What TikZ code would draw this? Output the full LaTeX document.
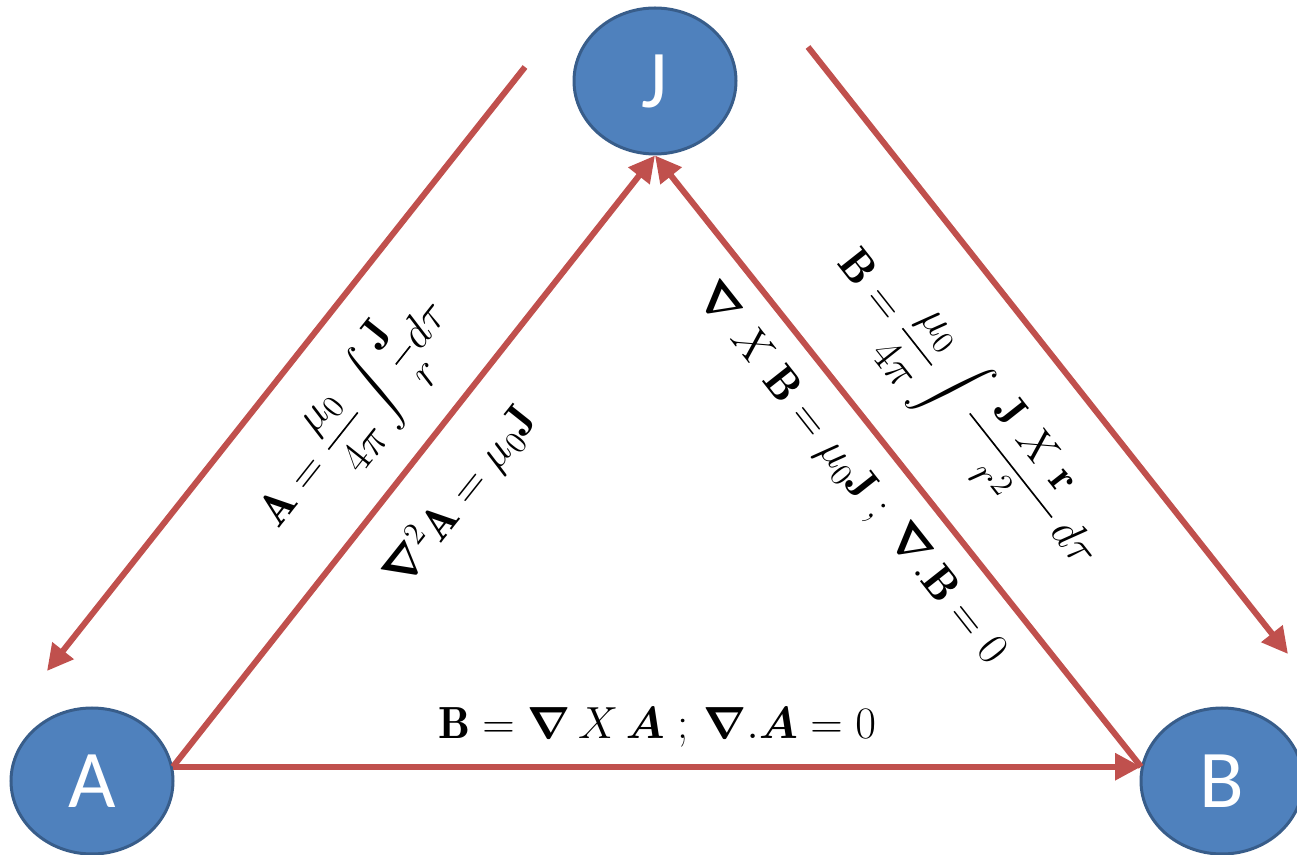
\documentclass[tikz,border=0pt]{standalone}
\usepackage{fix-cm}
\usepackage{amsmath,bm}
\usepackage{fontspec}
\newfontfamily\nodefont{Carlito}
\usetikzlibrary{shapes.geometric,arrows.meta}
\definecolor{nodeblue}{HTML}{4F81BD}
\definecolor{nodeedge}{HTML}{385D8A}
\definecolor{arrowred}{HTML}{C0504D}
\tikzset{
  vnode/.style={ellipse, fill=nodeblue, draw=nodeedge, line width=1.5pt,
    minimum width=81pt, minimum height=73pt, inner sep=0pt, text=white,
    font=\nodefont\fontsize{41}{41}\selectfont},
  rel/.style={draw=arrowred, line width=3pt, -{Triangle[length=13pt,width=13pt]}},
  eqlabel/.style={inner sep=0pt, font=\fontsize{22.5}{27}\selectfont}
}
\begin{document}
\begin{tikzpicture}[x=0.5pt,y=-0.5pt]
\useasboundingbox (0,0) rectangle (1297,855);
\node[vnode] (J) at (655,81) {J};
\node[vnode] (A) at (92,781) {A};
\node[vnode] (B) at (1222,781) {B};
\coordinate (j1) at (525,67);
\coordinate (a1) at (47,671);
\coordinate (j2) at (808,47);
\coordinate (b2) at (1288,654);
\draw[rel] (j1) -- (a1);
\draw[rel] (A.10) -- (J.south);
\draw[rel] (B.170) -- (J.south);
\draw[rel] (j2) -- (b2);
\draw[rel] (A.10) -- (B.170);
\node[eqlabel, rotate=51.6] (l1) at (354,414) {$\mathbf{A}=\dfrac{\mu_0}{4\pi}\displaystyle\int\frac{\mathbf{J}}{r}d\tau$};
\node[eqlabel, rotate=51.5] (l2) at (460,497) {$\bm{\nabla}^2\mathbf{A}=\mu_0\mathbf{J}$};
\node[eqlabel, rotate=-51.7] (l3) at (850,474) {$\bm{\nabla}\;X\;\mathbf{B}=\mu_0\mathbf{J}\;;\;\bm{\nabla}.\mathbf{B}=0$};
\node[eqlabel, rotate=-51.7] (l4) at (968,408) {$\mathbf{B}=\dfrac{\mu_0}{4\pi}\displaystyle\int\frac{\;\mathbf{J}\;X\;\mathbf{r}\;}{r^2}\,d\tau$};
\node[eqlabel] (l5) at (657,727) {$\mathbf{B}=\bm{\nabla}\,X\,\bm{A}\;;\,\bm{\nabla}.\bm{A}=0$};
\end{tikzpicture}
\end{document}
